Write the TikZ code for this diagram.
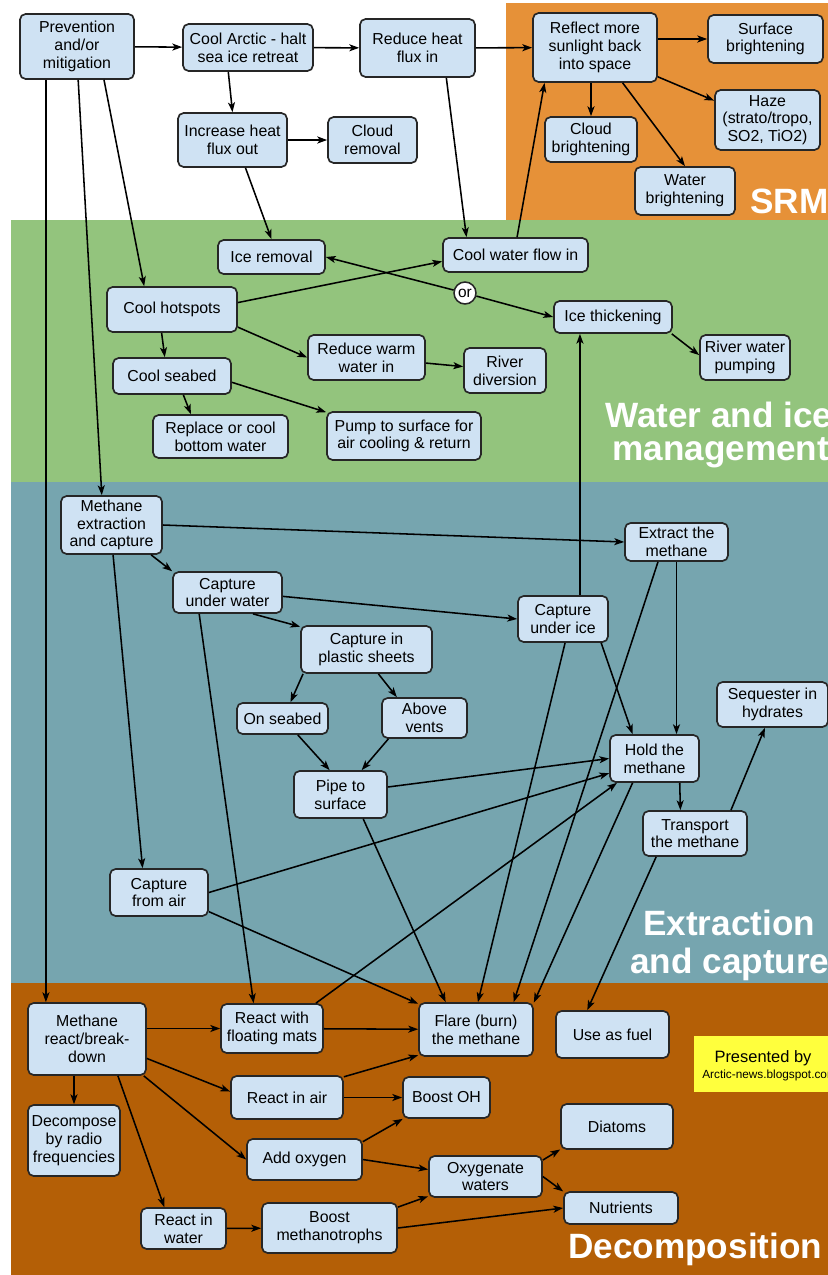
\documentclass[tikz,border=0pt]{standalone}
\usepackage{fontspec}
\setmainfont{Liberation Sans}
\usetikzlibrary{arrows.meta,calc}
\definecolor{srmzone}{HTML}{E69138}
\definecolor{waterzone}{HTML}{93C47D}
\definecolor{capturezone}{HTML}{76A5AF}
\definecolor{decompzone}{HTML}{B45F06}
\definecolor{boxfill}{HTML}{CFE2F3}
\definecolor{note}{HTML}{FFFF3D}
\tikzset{
  box/.style={draw=black!85,line width=1.2pt,rounded corners=4pt,fill=boxfill,align=center,inner sep=0pt,font=\fontsize{11.3}{12.6}\selectfont},
  wh/.style 2 args={minimum width=#1*0.025cm,minimum height=#2*0.025cm},
  link/.style={line width=1.1pt,-{Stealth[length=7pt,width=5pt,inset=1.8pt]}},
  zone/.style={font=\fontsize{25}{25}\bfseries\selectfont,text=white,anchor=base west,inner sep=0pt}
}
\begin{document}
\begin{tikzpicture}[x=0.025cm,y=-0.025cm]
\useasboundingbox (0,0) rectangle (828,1275);
\begin{scope}
\clip (0,0) rectangle (828,1275);
\fill[srmzone] (506,3) rectangle (828,220);
\fill[waterzone] (11,220) rectangle (828,482);
\fill[capturezone] (11,482) rectangle (828,983);
\fill[decompzone] (11,983) rectangle (828,1275);
\node[zone] (srmlabel) at (750,213) {SRM};
\node[zone] (waterlabel) at (605,427) {Water and ice};
\node[zone] (waterlabelb) at (612,460) {management};
\node[zone] (extlabel) at (643,935) {Extraction};
\node[zone] (extlabelb) at (630,973) {and capture};
\node[zone] (declabel) at (568,1258) {Decomposition};
\fill[note] (694,1036) rectangle (828,1092);
\node[font=\fontsize{11.7}{12}\selectfont,anchor=base,inner sep=0pt] (presented) at (763,1062) {Presented by};
\node[font=\fontsize{8.4}{9}\selectfont,anchor=base west,inner sep=0pt] (blog) at (702,1078) {Arctic-news.blogspot.com};
\end{scope}

\node[box,wh={114}{65}] (prev) at (77,46.5) {Prevention\\and/or\\mitigation};
\node[box,wh={130}{47}] (coolarc) at (248,47.5) {Cool Arctic - halt\\sea ice retreat};
\node[box,wh={115}{58}] (heatin) at (417.5,48) {Reduce heat\\flux in};
\node[box,wh={124}{69}] (reflect) at (595,47.5) {Reflect more\\sunlight back\\into space};
\node[box,wh={115}{48}] (surface) at (765.5,39) {Surface\\brightening};
\node[box,wh={105}{60}] (haze) at (767.5,120) {Haze\\(strato/tropo,\\SO2, TiO2)};
\node[box,wh={92}{45}] (cloudbr) at (591,139.5) {Cloud\\brightening};
\node[box,wh={100}{48}] (waterbr) at (685,191) {Water\\brightening};
\node[box,wh={109}{54}] (heatout) at (232.5,140) {Increase heat\\flux out};
\node[box,wh={89}{46}] (cloudrm) at (372.5,140) {Cloud\\removal};
\node[box,wh={107}{34}] (icerm) at (271.5,257) {Ice removal};
\node[box,wh={145}{34}] (flowin) at (515.5,255) {Cool water flow in};
\node[box,wh={130}{45}] (hotspots) at (172,309.5) {Cool hotspots};
\node[circle,draw=black!85,line width=1.1pt,fill=white,inner sep=0pt,minimum size=22*0.025cm,font=\fontsize{11}{12}\selectfont] (orsign) at (465,293) {or};
\node[box,wh={118}{32}] (thicken) at (613,317) {Ice thickening};
\node[box,wh={90}{45}] (riverpump) at (745,357.5) {River water\\pumping};
\node[box,wh={117}{45}] (warmin) at (366.5,357.5) {Reduce warm\\water in};
\node[box,wh={82}{45}] (diversion) at (505,370.5) {River\\diversion};
\node[box,wh={118}{36}] (seabed) at (172,376) {Cool seabed};
\node[box,wh={135}{43}] (bottom) at (220.5,436.5) {Replace or cool\\bottom water};
\node[box,wh={154}{48}] (pump) at (404,436) {Pump to surface for\\air cooling \& return};
\node[box,wh={101}{58}] (mextract) at (111.5,525) {Methane\\extraction\\and capture};
\node[box,wh={103}{38}] (extract) at (676.5,542) {Extract the\\methane};
\node[box,wh={109}{41}] (underwater) at (227.5,592.5) {Capture\\under water};
\node[box,wh={90}{46}] (underice) at (563,619) {Capture\\under ice};
\node[box,wh={131}{47}] (sheets) at (366.5,649.5) {Capture in\\plastic sheets};
\node[box,wh={91}{31}] (onseabed) at (282.5,718.5) {On seabed};
\node[box,wh={85}{40}] (vents) at (424.5,718) {Above\\vents};
\node[box,wh={93}{47}] (pipe) at (340.5,794.5) {Pipe to\\surface};
\node[box,wh={89}{47}] (hold) at (654.5,758.5) {Hold the\\methane};
\node[box,wh={111}{45}] (hydrates) at (772.5,704.5) {Sequester in\\hydrates};
\node[box,wh={104}{45}] (transport) at (695,833.5) {Transport\\the methane};
\node[box,wh={98}{47}] (fromair) at (159,892.5) {Capture\\from air};
\node[box,wh={118}{72}] (breakdown) at (87,1039) {Methane\\react/break-\\down};
\node[box,wh={102}{49}] (mats) at (272,1028.5) {React with\\floating mats};
\node[box,wh={114}{53}] (flare) at (476,1029.5) {Flare (burn)\\the methane};
\node[box,wh={113}{47}] (fuel) at (612.5,1034.5) {Use as fuel};
\node[box,wh={112}{43}] (inair) at (287,1097.5) {React in air};
\node[box,wh={87}{41}] (boostoh) at (446.5,1097.5) {Boost OH};
\node[box,wh={92}{71}] (radio) at (74,1140.5) {Decompose\\by radio\\frequencies};
\node[box,wh={115}{41}] (oxygen) at (304.5,1159.5) {Add oxygen};
\node[box,wh={112}{45}] (diatoms) at (617,1126.5) {Diatoms};
\node[box,wh={113}{41}] (oxywaters) at (485.5,1176.5) {Oxygenate\\waters};
\node[box,wh={114}{32}] (nutrients) at (621,1208) {Nutrients};
\node[box,wh={85}{41}] (inwater) at (183.5,1228.5) {React in\\water};
\node[box,wh={135}{50}] (methanotrophs) at (329.5,1228) {Boost\\methanotrophs};

\draw[link] (prev) -- (coolarc);
\draw[link] (coolarc) -- (heatin);
\draw[link] (heatin) -- (reflect);
\draw[link] (reflect.east |- surface.west) -- (surface.west);
\draw[link] (reflect.-25) -- (haze.160);
\draw[link] (cloudbr |- reflect.south) -- (cloudbr.north);
\draw[link] (reflect.-52) -- (waterbr.north);
\draw[link] (coolarc.-129) -- (heatout.north);
\draw[link] (heatout) -- (cloudrm);
\draw[link] (heatout.-65) -- (icerm.north);
\draw[link] (heatin.-46) -- (flowin.160);
\draw[link] (flowin.85) -- (reflect.-145);
\draw[link] (hotspots.6) -- (flowin.-175);
\draw[link] (orsign) -- (icerm.east);
\draw[link] (orsign) -- (thicken.west);
\draw[link] (prev.-51) -- (hotspots.140);
\draw[link] (prev.-88) -- (mextract.108);
\draw[link] (prev.-133) -- (prev.-133 |- breakdown.north);
\draw[link] (hotspots.-114) -- (seabed.111);
\draw[link] (hotspots.-15) -- (warmin.west);
\draw[link] (warmin) -- (diversion);
\draw[link] (seabed.-59) -- (bottom.143);
\draw[link] (seabed.-6) -- (pump.163);
\draw[link] (thicken.-16) -- (riverpump.177);
\draw[link] (thicken.-153 |- underice.north) -- (thicken.-153);
\draw[link] (mextract.east) -- (extract.west);
\draw[link] (mextract.-37) -- (underwater.159);
\draw[link] (mextract.-87) -- (fromair.124);
\draw[link] (underwater.-4) -- (underice.west);
\draw[link] (underwater.-40) -- (sheets.161);
\draw[link] (underwater.-143) -- (mats.126);
\draw[link] (sheets.-159) -- (onseabed.64);
\draw[link] (sheets.-64) -- (vents.143);
\draw[link] (onseabed.-47) -- (pipe.114);
\draw[link] (vents.-150) -- (pipe.49);
\draw[link] (pipe.9) -- (hold.west);
\draw[link] (pipe.-47) -- (flare.138);
\draw[link] (fromair.east) -- (hold.-162);
\draw[link] (fromair.-21) -- (flare.156);
\draw[link] (mats.30) -- (hold.-147);
\draw[link] (underice.-85) -- (flare.86);
\draw[link] (extract.-133) -- (flare.36);
\draw[link] (hold.-132) -- (flare.25);
\draw[link] (underice.-32) -- (hold.132);
\draw[link] (extract.south) -- (extract.south |- hold.north);
\draw[link] (hold.-44) -- (transport.122);
\draw[link] (transport.33) -- (hydrates.-108);
\draw[link] (transport.-149) -- (fuel.136);
\draw[link] (breakdown.east |- mats.west) -- (mats.west);
\draw[link] (mats) -- (flare);
\draw[link] (inair.20) -- (flare.-156);
\draw[link] (breakdown.-18) -- (inair.174);
\draw[link] (inair) -- (boostoh);
\draw[link] (radio.north |- breakdown.south) -- (radio.north);
\draw[link] (breakdown.-33) -- (oxygen.west);
\draw[link] (breakdown.-50) -- (inwater.132);
\draw[link] (oxygen.17) -- (boostoh.-154);
\draw[link] (oxygen.east) -- (oxywaters.173);
\draw[link] (inwater) -- (methanotrophs);
\draw[link] (methanotrophs.17) -- (oxywaters.-161);
\draw[link] (methanotrophs.east) -- (nutrients.west);
\draw[link] (oxywaters.16) -- (diatoms.-158);
\draw[link] (oxywaters.east) -- (nutrients.164);
\end{tikzpicture}
\end{document}
